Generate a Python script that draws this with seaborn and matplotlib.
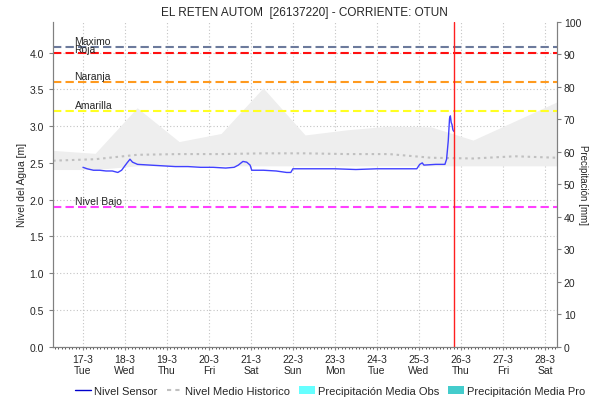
import numpy as np
import pandas as pd
import matplotlib
matplotlib.use("Agg")
import matplotlib.pyplot as plt
import matplotlib.ticker as mticker
from matplotlib.lines import Line2D
from matplotlib.patches import Patch
import seaborn as sns

# --- data (x in days of March) ---
sensor_day = [17.00, 17.10, 17.25, 17.40, 17.55, 17.70, 17.83, 17.92, 18.05, 18.12,
              18.18, 18.30, 18.60, 18.90, 19.20, 19.50, 19.80, 20.10, 20.40, 20.60,
              20.70, 20.81, 20.90, 20.98, 21.02, 21.30, 21.60, 21.85, 21.95, 22.00,
              22.50, 23.00, 23.50, 24.00, 24.50, 24.95, 25.02, 25.08, 25.12, 25.40,
              25.62, 25.66, 25.70, 25.73, 25.75, 25.77, 25.79, 25.81, 25.83]
sensor_val = [2.44, 2.42, 2.40, 2.40, 2.39, 2.39, 2.37, 2.40, 2.50, 2.55,
              2.51, 2.48, 2.47, 2.46, 2.45, 2.45, 2.44, 2.44, 2.43, 2.44,
              2.47, 2.52, 2.51, 2.47, 2.40, 2.40, 2.39, 2.37, 2.37, 2.42,
              2.42, 2.42, 2.41, 2.42, 2.42, 2.42, 2.48, 2.50, 2.47, 2.48,
              2.48, 2.55, 2.80, 3.10, 3.14, 3.05, 3.02, 2.95, 2.93]

hist_day = [16.29, 17.29, 18.29, 19.29, 20.29, 21.29, 22.29, 23.29, 24.29, 25.29,
            26.29, 27.29, 28.29]
hist_mean = [2.53, 2.55, 2.61, 2.62, 2.62, 2.63, 2.63, 2.62, 2.62, 2.57,
             2.56, 2.59, 2.57]
band_low = [2.41, 2.41, 2.46, 2.46, 2.46, 2.46, 2.46, 2.46, 2.46, 2.46,
            2.46, 2.46, 2.46]
band_high = [2.67, 2.63, 3.25, 2.79, 2.90, 3.52, 2.88, 2.95, 3.00, 2.99,
             2.81, 3.07, 3.33]

thresholds = {"Maximo": 4.07, "Roja": 4.00, "Naranja": 3.60,
              "Amarilla": 3.20, "Nivel Bajo": 1.90}
threshold_colors = {"Maximo": "#6c7a9c", "Roja": "#ff1010", "Naranja": "#ff9a1e",
                    "Amarilla": "#ffff22", "Nivel Bajo": "#ff40ff"}

tick_days = list(range(17, 29))
tick_names = ["Tue", "Wed", "Thu", "Fri", "Sat", "Sun", "Mon", "Tue", "Wed", "Thu", "Fri", "Sat"]
now_day = 25.83

sensor = pd.DataFrame({"dia": sensor_day, "nivel": sensor_val})
hist = pd.DataFrame({"dia": hist_day, "media": hist_mean, "low": band_low, "high": band_high})

sns.set_style("white")
plt.rcParams["font.family"] = ["Liberation Sans", "DejaVu Sans"]

fig = plt.figure(figsize=(5.9, 4.02), dpi=100)
ax = fig.add_axes([0.0898, 0.135, 0.854, 0.8085])

ax.fill_between(hist["dia"], hist["low"], hist["high"], color="#eeeeee", lw=0, zorder=1)
sns.lineplot(data=hist, x="dia", y="media", ax=ax, color="#c0c0c0", lw=1.5,
             linestyle=(0, (1.2, 1.8)), zorder=2)
sns.lineplot(data=sensor, x="dia", y="nivel", ax=ax, color="#4040ff", lw=1.0, zorder=4)

for name, val in thresholds.items():
    ax.axhline(val, color=threshold_colors[name], lw=1.5, linestyle=(0, (4, 2)), zorder=3)
    dy = 0.02 if name != "Roja" else -0.015
    ax.text(16.8, val + dy, name, fontsize=7.5, va="bottom", ha="left", zorder=5)

ax.axvline(now_day, color="#ff2020", lw=1.0, zorder=5)

ax.set_xlim(16.286, 28.286)
ax.set_ylim(0, 4.42)
ax.set_xticks(tick_days)
ax.set_xticklabels([f"{d}-3\n{n}" for d, n in zip(tick_days, tick_names)], fontsize=7.5)
ax.xaxis.set_minor_locator(mticker.MultipleLocator(1 / 12))
ax.set_yticks(np.arange(0, 4.01, 0.5))
ax.yaxis.set_major_formatter(mticker.FormatStrFormatter("%.1f"))
ax.tick_params(axis="y", labelsize=7.5, length=3, color="#808080", left=True)
ax.tick_params(axis="x", which="major", length=2, color="#808080", bottom=True, pad=3)
ax.tick_params(axis="x", which="minor", length=1.5, color="#404040", bottom=True)
ax.grid(True, color="#c4c4c4", lw=0.8, linestyle=(0, (1, 2)))
ax.set_xlabel("")
ax.set_ylabel("Nivel del Agua [m]", fontsize=7.5, labelpad=2)
ax.set_title("EL RETEN AUTOM  [26137220] - CORRIENTE: OTUN", fontsize=8.5, pad=5)
for s in ax.spines.values():
    s.set_color("#808080")
ax.spines["top"].set_visible(False)

ax2 = ax.twinx()
ax2.set_ylim(0, 100)
ax2.set_yticks(range(0, 101, 10))
ax2.tick_params(axis="y", labelsize=7.5, length=3, pad=2, color="#808080", right=True)
ax2.set_ylabel("Precipitación [mm]", fontsize=7, rotation=270, va="center", ha="center")
ax2.yaxis.set_label_coords(1.052, 0.5)
for s in ax2.spines.values():
    s.set_color("#808080")
ax2.spines["top"].set_visible(False)
ax2.grid(False)

handles = [Line2D([], [], color="#0000cc", lw=1),
           Line2D([], [], color="#c0c0c0", lw=1.5, linestyle=(0, (2, 2))),
           Patch(facecolor="#66ffff", edgecolor="none"),
           Patch(facecolor="#44cccc", edgecolor="none")]
labels = ["Nivel Sensor", "Nivel Medio Historico", "Precipitación Media Obs", "Precipitación Media Pro"]
fig.legend(handles, labels, loc="center", bbox_to_anchor=(0.56, 0.025), ncol=4,
           frameon=False, fontsize=8, handlelength=1.4, handletextpad=0.3, columnspacing=0.8)

fig.savefig("out.png", dpi=100)
